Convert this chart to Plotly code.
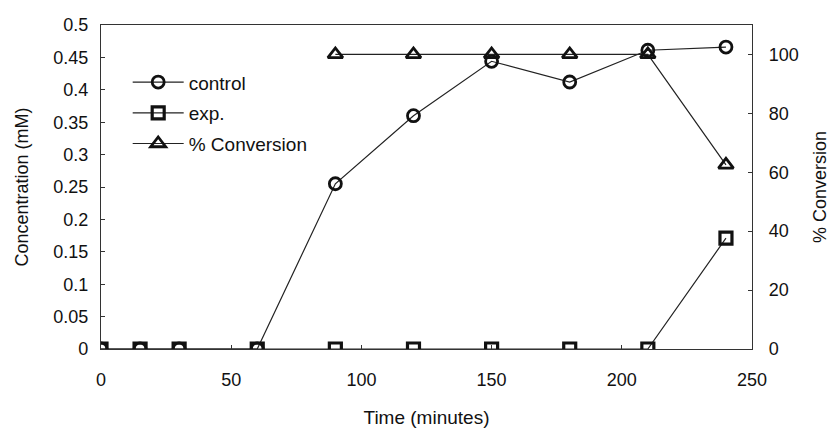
import plotly.graph_objects as go

# Sampling times (minutes)
time_min = [0, 15, 30, 60, 90, 120, 150, 180, 210, 240]
conv_time = [90, 120, 150, 180, 210, 240]

# Concentrations (mM)
control_conc = [0, 0, 0, 0, 0.255, 0.36, 0.444, 0.412, 0.461, 0.466]
exp_conc = [0, 0, 0, 0, 0, 0, 0, 0, 0, 0.171]

# Percent conversion
pct_conversion = [100, 100, 100, 100, 100, 62.5]

FONT = "Liberation Sans, Arial, sans-serif"
INK = "#111111"
LINE = dict(color="#222222", width=1.2)

fig = go.Figure()

fig.add_trace(go.Scatter(
    x=time_min, y=control_conc, name="control", mode="lines+markers",
    line=LINE, legendgroup="a",
    marker=dict(symbol="circle-open", size=12, color=INK,
                line=dict(width=2.8, color=INK)),
))
fig.add_trace(go.Scatter(
    x=time_min, y=exp_conc, name="exp.", mode="lines+markers",
    line=LINE, legendgroup="b",
    marker=dict(symbol="square-open", size=12, color=INK,
                line=dict(width=3.2, color=INK)),
))
fig.add_trace(go.Scatter(
    x=conv_time, y=pct_conversion, name="% Conversion", mode="lines+markers",
    line=LINE, legendgroup="c", yaxis="y2",
    marker=dict(symbol="triangle-up-open", size=13, color=INK,
                line=dict(width=2.8, color=INK)),
))

axis_common = dict(
    showgrid=False, zeroline=False, showline=True, linecolor="#333333",
    linewidth=1.2, ticks="inside", ticklen=4, tickcolor="#333333",
    tickfont=dict(family=FONT, size=18, color=INK), automargin=False,
)

fig.update_layout(
    width=832, height=428,
    margin=dict(l=101, r=80, t=25, b=79),
    paper_bgcolor="white", plot_bgcolor="white",
    font=dict(family=FONT, size=18, color=INK),
    xaxis=dict(
        range=[0, 250], dtick=50, mirror=True, ticklabelstandoff=14,
        title=dict(text="Time (minutes)", font=dict(family=FONT, size=19), standoff=21),
        **axis_common,
    ),
    yaxis=dict(
        range=[0, 0.5], dtick=0.05, tickformat="~g", ticklabelstandoff=8,
        title=dict(text="Concentration (mM)", font=dict(family=FONT, size=18), standoff=19),
        **axis_common,
    ),
    yaxis2=dict(
        range=[0, 110], tickvals=[0, 20, 40, 60, 80, 100], overlaying="y", side="right",
        ticklabelstandoff=12,
        title=dict(text="% Conversion", font=dict(family=FONT, size=18), standoff=15),
        **axis_common,
    ),
    legend=dict(
        x=0.041, y=0.882, xanchor="left", yanchor="top",
        bgcolor="rgba(0,0,0,0)", font=dict(family=FONT, size=19),
        tracegroupgap=3, itemwidth=51,
    ),
    showlegend=True,
)

fig.write_html("out.html")
